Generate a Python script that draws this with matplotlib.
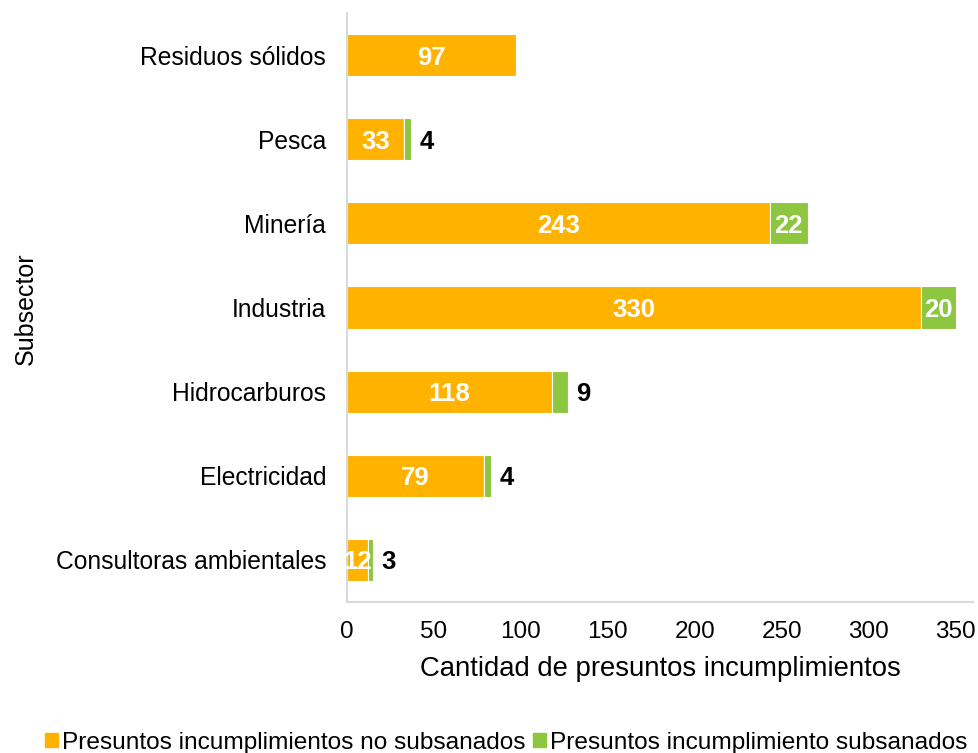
import matplotlib.pyplot as plt
from matplotlib.patches import Patch
import numpy as np

plt.rcParams['font.family'] = ['Liberation Sans', 'DejaVu Sans']

# datos
subsectores = ['Residuos sólidos', 'Pesca', 'Minería', 'Industria',
               'Hidrocarburos', 'Electricidad', 'Consultoras ambientales']
no_subsanados = [97, 33, 243, 330, 118, 79, 12]
subsanados = [0, 4, 22, 20, 9, 4, 3]

naranja = '#FFB300'
verde = '#8DC63F'

fig = plt.figure(figsize=(9.79, 7.53), dpi=100)
ax = fig.add_axes([0.3544, 0.2005, 0.6395, 0.7822])

y = np.arange(len(subsectores))
ax.barh(y, no_subsanados, height=0.5, color=naranja, edgecolor='white', linewidth=0.8)
ax.barh(y, subsanados, left=no_subsanados, height=0.5, color=verde,
        edgecolor='white', linewidth=0.8)

# etiquetas de valores
for i in range(len(subsectores)):
    a, b = no_subsanados[i], subsanados[i]
    ax.text(a / 2, i, str(a), ha='center', va='center_baseline', color='white',
            fontsize=18.5, fontweight='bold')
    if b == 0:
        continue
    if b >= 10:
        ax.text(a + b / 2, i, str(b), ha='center', va='center_baseline', color='white',
                fontsize=18.5, fontweight='bold')
    else:
        ax.annotate(str(b), xy=(a + b, i), xytext=(6, 0), textcoords='offset points',
                    ha='left', va='center_baseline', color='black', fontsize=18.5,
                    fontweight='bold')

ax.set_yticks(y)
ax.set_yticklabels(subsectores, fontsize=17.7)
ax.set_ylim(6.5, -0.5)
ax.set_xlim(0, 360)
ax.set_xticks(np.arange(0, 351, 50))
ax.tick_params(axis='x', labelsize=17.5, length=0, pad=14)
ax.tick_params(axis='y', length=0, pad=15)

for s in ['top', 'right']:
    ax.spines[s].set_visible(False)
for s in ['left', 'bottom']:
    ax.spines[s].set_color('#D9D9D9')
    ax.spines[s].set_linewidth(1.5)

ax.set_xlabel('Cantidad de presuntos incumplimientos', fontsize=19.8, labelpad=9)
fig.text(0.026, 0.59, 'Subsector', rotation=90, ha='center', va='center', fontsize=18)

handles = [Patch(color=naranja), Patch(color=verde)]
fig.legend(handles, ['Presuntos incumplimientos no subsanados',
                     'Presuntos incumplimiento subsanados'],
           loc='lower center', bbox_to_anchor=(0.517, -0.03), ncol=2, frameon=False,
           fontsize=17.6, handlelength=0.55, handleheight=0.55, handletextpad=0.15,
           columnspacing=0.3)

fig.savefig('out.png', dpi=100)
